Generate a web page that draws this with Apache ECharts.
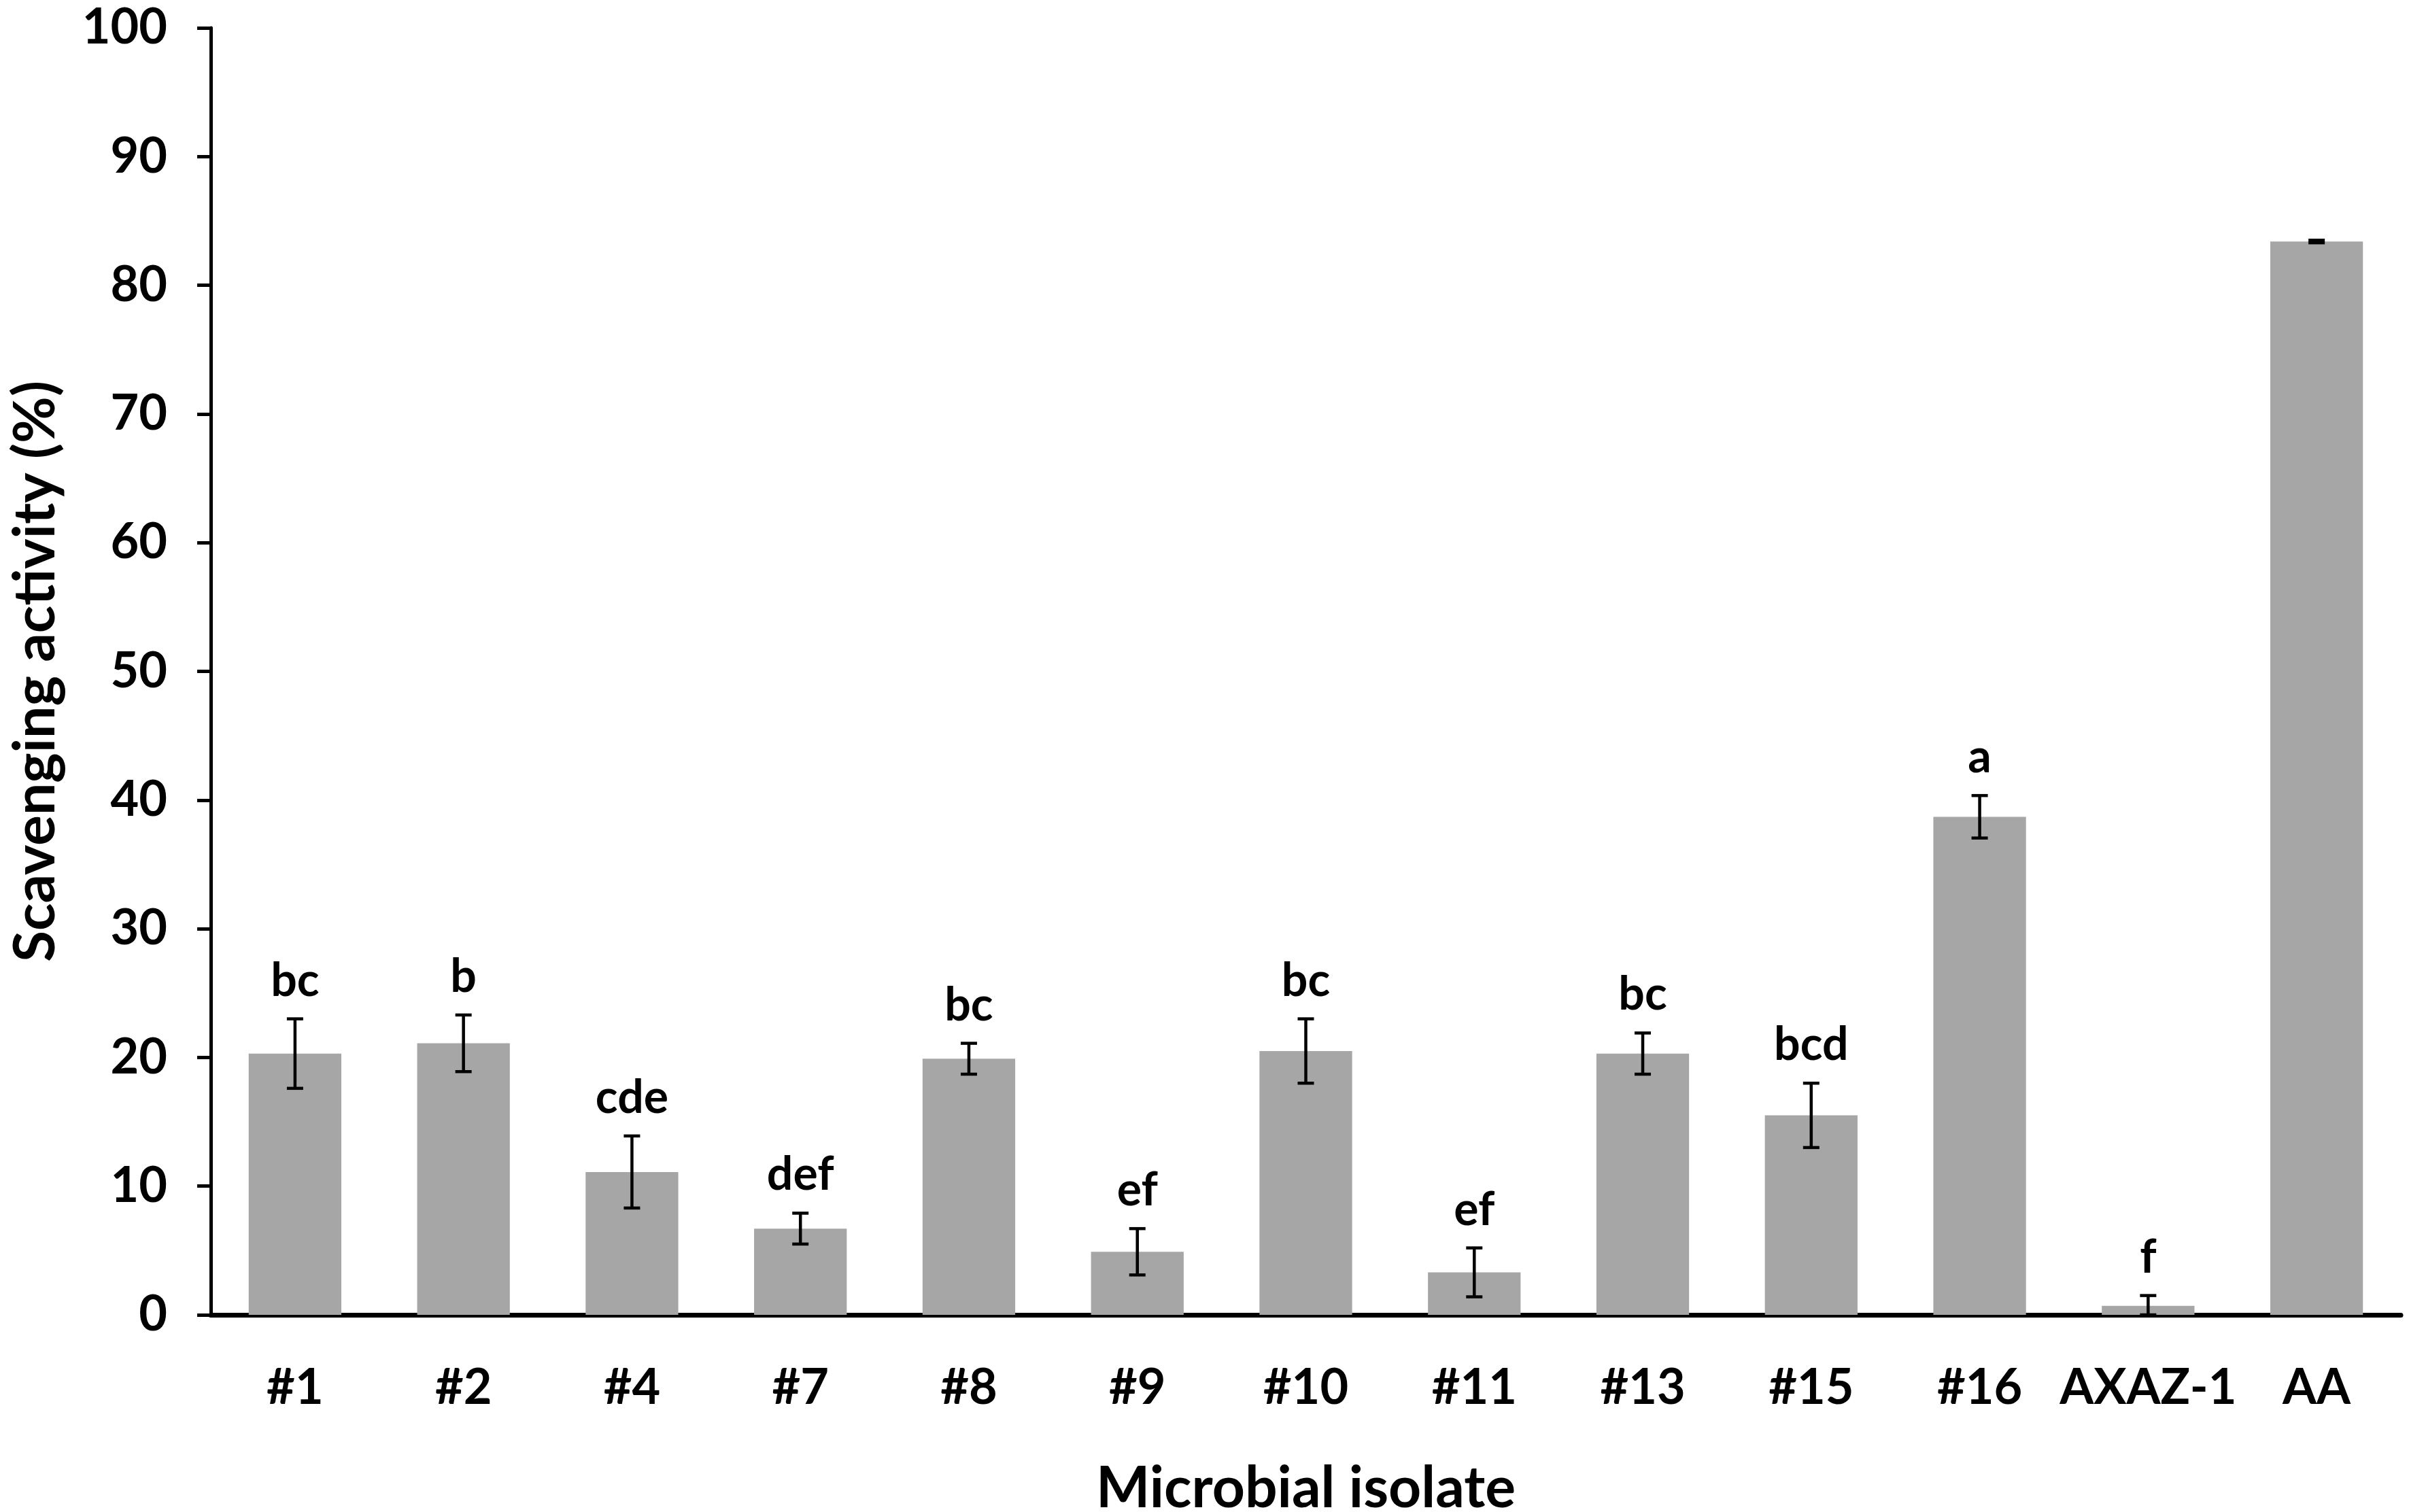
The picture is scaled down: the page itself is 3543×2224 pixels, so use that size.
<!DOCTYPE html>
<html>
<head>
<meta charset="utf-8">
<script src="https://cdn.jsdelivr.net/npm/echarts@6/dist/echarts.min.js"></script>
<style>
  html, body { margin: 0; padding: 0; background: #fff; }
  #chart { width: 3543px; height: 2224px; }
</style>
</head>
<body>
<div id="chart"></div>
<script>
// ==================== Data ====================
const isolates = ['#1', '#2', '#4', '#7', '#8', '#9', '#10', '#11', '#13', '#15', '#16', 'AXAZ-1', 'AA'];
const scavenging = [20.3, 21.1, 11.1, 6.7, 19.9, 4.9, 20.5, 3.3, 20.3, 15.5, 38.7, 0.7, 83.4];
const errors = [2.7, 2.2, 2.8, 1.2, 1.2, 1.8, 2.5, 1.9, 1.6, 2.5, 1.65, 0.8, 0.1];
const letters = ['bc', 'b', 'cde', 'def', 'bc', 'ef', 'bc', 'ef', 'bc', 'bcd', 'a', 'f', ''];
const yTicks = [0, 100, 10]; // min, max, step

const FONT = 'Lato';

// error bar + significance letter, drawn through the axis scales
function renderErr(params, api) {
    const i = api.value(0);
    const v = api.value(1);
    const e = api.value(2);
    const hi = api.coord([i, v + e]);
    const lo = api.coord([i, v - e < 0 ? 0 : v - e]);
    const cap = 12;
    const style = { stroke: '#000', lineWidth: 4.5 };
    const children = [
        { type: 'line', shape: { x1: hi[0], y1: hi[1], x2: lo[0], y2: lo[1] }, style },
        { type: 'line', shape: { x1: hi[0] - cap, y1: hi[1], x2: hi[0] + cap, y2: hi[1] }, style },
        { type: 'line', shape: { x1: lo[0] - cap, y1: lo[1], x2: lo[0] + cap, y2: lo[1] }, style }
    ];
    const txt = letters[i];
    if (txt) {
        children.push({
            type: 'text',
            style: {
                text: txt, x: hi[0], y: hi[1] - 22,
                align: 'center', verticalAlign: 'bottom',
                font: 'bold 68px ' + FONT, fill: '#000'
            }
        });
    }
    return { type: 'group', children };
}

const chart = echarts.init(document.getElementById('chart'));
chart.setOption({
    backgroundColor: '#fff',
    animation: false,
    grid: { left: 310, right: 12, top: 41, bottom: 290, containLabel: false, outerBoundsMode: 'none' },
    xAxis: {
        type: 'category',
        data: isolates,
        name: 'Microbial isolate',
        nameLocation: 'middle',
        nameGap: 214,
        nameTextStyle: { fontFamily: FONT, fontWeight: 'bold', fontSize: 84, color: '#000' },
        axisLine: { lineStyle: { color: '#000', width: 7 } },
        axisTick: { show: false },
        axisLabel: { interval: 0, fontFamily: FONT, fontWeight: 'bold', fontSize: 72, color: '#000', margin: 72 }
    },
    yAxis: {
        type: 'value',
        min: yTicks[0], max: yTicks[1], interval: yTicks[2],
        name: 'Scavenging activity (%)',
        nameLocation: 'middle',
        nameGap: 215,
        nameTextStyle: { fontFamily: FONT, fontWeight: 'bold', fontSize: 84, color: '#000' },
        axisLine: { show: true, lineStyle: { color: '#000', width: 5 } },
        axisTick: { show: true, length: 20, lineStyle: { color: '#000', width: 5 } },
        axisLabel: { fontFamily: FONT, fontWeight: 'bold', fontSize: 72, color: '#000', margin: 64 },
        splitLine: { show: false }
    },
    series: [
        {
            type: 'bar',
            data: scavenging,
            barWidth: '55%',
            itemStyle: { color: '#a6a6a6' }
        },
        {
            type: 'custom',
            renderItem: renderErr,
            data: scavenging.map((v, i) => [i, v, errors[i]]),
            z: 5
        }
    ]
});
</script>
</body>
</html>
